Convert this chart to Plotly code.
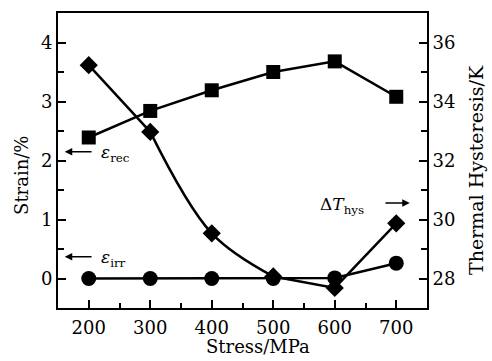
import plotly.graph_objects as go

stress = [200, 300, 400, 500, 600, 700]
eps_rec = [2.39, 2.84, 3.19, 3.50, 3.68, 3.08]      # Strain/% (squares)
eps_irr = [0.0, 0.0, 0.0, 0.0, 0.01, 0.26]          # Strain/% (circles)
dT_hys = [35.23, 32.97, 29.53, 28.07, 27.68, 29.87]  # Thermal hysteresis/K (diamonds)

x_ticks = [200, 300, 400, 500, 600, 700]
y_ticks = [0, 1, 2, 3, 4]
y2_ticks = [28, 30, 32, 34, 36]

FONT = "DejaVu Serif"
fig = go.Figure()

line_style = dict(color="black", width=2.5)
fig.add_trace(go.Scatter(x=stress, y=eps_irr, mode="lines+markers", line=line_style,
                         marker=dict(symbol="circle", size=15, color="black"),
                         yaxis="y", showlegend=False))
fig.add_trace(go.Scatter(x=stress, y=eps_rec, mode="lines+markers", line=line_style,
                         marker=dict(symbol="square", size=14, color="black"),
                         yaxis="y", showlegend=False))
fig.add_trace(go.Scatter(x=stress[:2], y=dT_hys[:2], mode="lines", line=line_style,
                         yaxis="y2", showlegend=False))
fig.add_trace(go.Scatter(x=stress[1:4], y=dT_hys[1:4], mode="lines",
                         line=dict(color="black", width=2.5, shape="spline", smoothing=1.0),
                         yaxis="y2", showlegend=False))
fig.add_trace(go.Scatter(x=stress[3:], y=dT_hys[3:], mode="lines", line=line_style,
                         yaxis="y2", showlegend=False))
fig.add_trace(go.Scatter(x=stress, y=dT_hys, mode="markers",
                         marker=dict(symbol="diamond", size=14, color="black"),
                         yaxis="y2", showlegend=False))

tickfont = dict(family=FONT, size=18, color="black")
axis_common = dict(showline=True, linecolor="black", linewidth=2, automargin=False,
                   ticks="inside", ticklen=8, tickwidth=2, tickcolor="black",
                   showgrid=False, zeroline=False, tickfont=tickfont)

fig.update_layout(
    width=492, height=361,
    margin=dict(l=58, r=65, t=13, b=53),
    paper_bgcolor="white", plot_bgcolor="white",
    font=dict(family=FONT, color="black", size=18),
    xaxis=dict(range=[150, 750], tickvals=x_ticks, mirror=True, ticklabelstandoff=2,
               minor=dict(dtick=50, ticks="inside", ticklen=5, tickwidth=2, tickcolor="black"),
               **axis_common),
    yaxis=dict(range=[-0.5, 4.5], tickvals=y_ticks, ticklabelstandoff=0,
               minor=dict(dtick=0.5, tick0=0, ticks="inside", ticklen=6, tickwidth=2, tickcolor="black"),
               **axis_common),
    yaxis2=dict(range=[27, 37], tickvals=y2_ticks, overlaying="y", side="right", ticklabelstandoff=0,
                minor=dict(dtick=1, tick0=28, ticks="inside", ticklen=6, tickwidth=2, tickcolor="black"),
                **axis_common),
)

# axis titles
fig.add_annotation(text="Stress/MPa", xref="paper", yref="paper", x=0.542, y=-0.13,
                   xanchor="center", yanchor="middle", showarrow=False,
                   font=dict(family=FONT, size=18, color="black"))
fig.add_annotation(text="Strain/%", xref="paper", yref="paper", x=-0.0976, y=0.451,
                   xanchor="center", yanchor="middle", textangle=-90, showarrow=False,
                   font=dict(family=FONT, size=18, color="black"))
fig.add_annotation(text="Thermal Hysteresis/K", xref="paper", yref="paper", x=1.133, y=0.468,
                   xanchor="center", yanchor="middle", textangle=-90, showarrow=False,
                   font=dict(family=FONT, size=19, color="black"))

arrow = dict(showarrow=True, arrowhead=2, arrowsize=1, arrowwidth=1.5, arrowcolor="black",
             axref="x", ayref="y", xref="x", yref="y", text="")
fig.add_annotation(x=161, y=2.15, ax=207, ay=2.15, **arrow)
fig.add_annotation(x=161, y=0.37, ax=207, ay=0.37, **arrow)
fig.add_annotation(x=722, y=1.28, ax=680, ay=1.28, **arrow)

txt = dict(showarrow=False, xref="x", yref="y", font=dict(family=FONT, size=17, color="black"))
fig.add_annotation(x=216, y=2.12, text="<i>ε</i><sub>rec</sub>", xanchor="left", **txt)
fig.add_annotation(x=216, y=0.34, text="<i>ε</i><sub>irr</sub>", xanchor="left", **txt)
fig.add_annotation(x=650, y=1.24, text="Δ<i>T</i><sub>hys</sub>", xanchor="right", **txt)

fig.write_html("out.html")
